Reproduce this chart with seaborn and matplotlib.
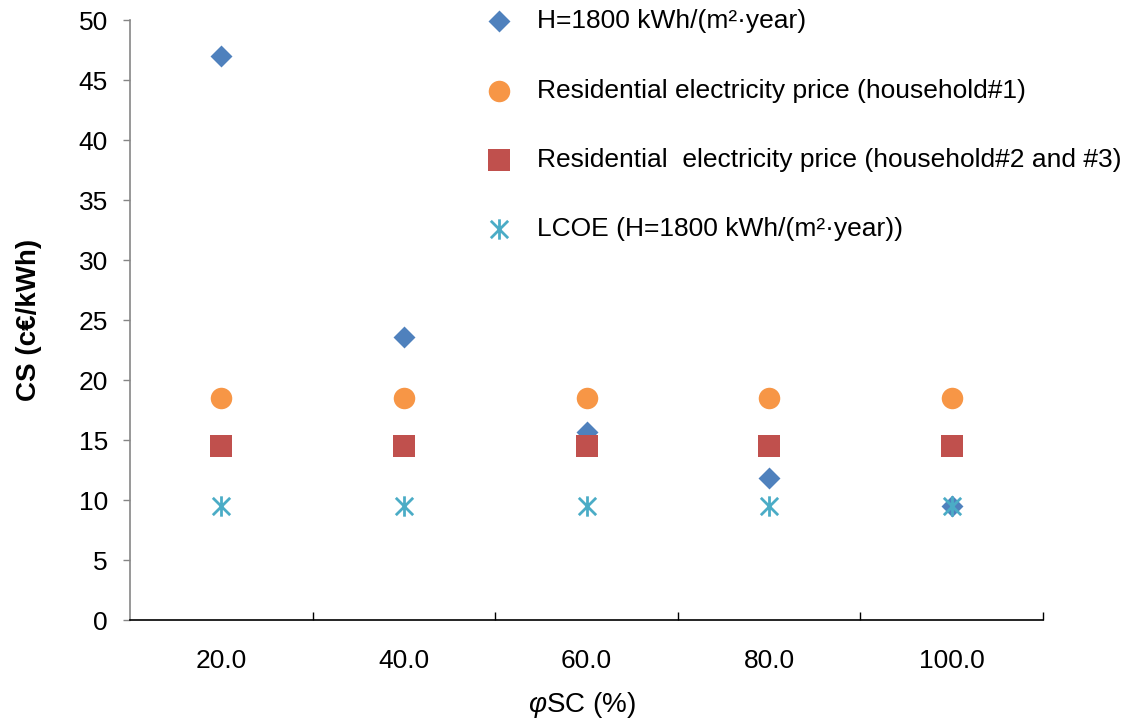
import matplotlib
matplotlib.use("Agg")
import matplotlib.pyplot as plt
import seaborn as sns
import pandas as pd
from matplotlib.ticker import FixedLocator
from matplotlib.path import Path

categories = ["20.0", "40.0", "60.0", "80.0", "100.0"]
h1800 = [47.0, 23.6, 15.7, 11.8, 9.5]
price_hh1 = [18.5, 18.5, 18.5, 18.5, 18.5]
price_hh23 = [14.5, 14.5, 14.5, 14.5, 14.5]
lcoe = [9.5, 9.5, 9.5, 9.5, 9.5]

labels = ["H=1800 kWh/(m²·year)",
          "Residential electricity price (household#1)",
          "Residential  electricity price (household#2 and #3)",
          "LCOE (H=1800 kWh/(m²·year))"]

sns.set_theme(style="white")
plt.rcParams['font.family'] = ['Liberation Sans', 'DejaVu Sans']
plt.rcParams['mathtext.fontset'] = 'custom'
plt.rcParams['mathtext.it'] = 'Liberation Sans:italic'
plt.rcParams['mathtext.rm'] = 'Liberation Sans'
plt.rcParams['text.color'] = 'black'
plt.rcParams['axes.labelcolor'] = 'black'
plt.rcParams['xtick.color'] = 'black'
plt.rcParams['ytick.color'] = 'black'

# asterisk: vertical stroke plus an X
star = Path([(0, -1), (0, 1), (-0.85, -0.85), (0.85, 0.85), (-0.85, 0.85), (0.85, -0.85)],
            [Path.MOVETO, Path.LINETO, Path.MOVETO, Path.LINETO, Path.MOVETO, Path.LINETO])

fig = plt.figure(figsize=(11.35, 7.24), dpi=100)
ax = fig.add_axes([130/1135, 104/724, 913/1135, 600/724])

series = [
    (h1800, labels[0], "#4F81BD", "D", 125, False),
    (price_hh1, labels[1], "#F79646", "o", 240, False),
    (price_hh23, labels[2], "#C0504D", "s", 230, False),
    (lcoe, labels[3], "#4BACC6", star, 215, True),
]
for vals, lab, col, mk, s, is_line in series:
    df = pd.DataFrame({"x": categories, "y": vals})
    if is_line:
        sns.scatterplot(data=df, x="x", y="y", ax=ax, marker=mk, s=s,
                        color=col, linewidth=2.0, edgecolor=col, label=lab, zorder=3)
    else:
        sns.scatterplot(data=df, x="x", y="y", ax=ax, marker=mk, s=s,
                        color=col, linewidth=0, label=lab, zorder=3)

ax.set_xlim(-0.5, 4.5)
ax.set_ylim(0, 50)
ax.set_yticks(range(0, 51, 5))
ax.tick_params(axis='y', which='major', length=5, width=1, direction='out',
               labelsize=19, pad=11, left=True, color='#868686', labelcolor='black')
ax.xaxis.set_minor_locator(FixedLocator([0.5, 1.5, 2.5, 3.5, 4.5]))
ax.tick_params(axis='x', which='major', length=0, labelsize=19, pad=21, labelcolor='black')
ax.tick_params(axis='x', which='minor', length=6, width=1, direction='in',
               color='black', bottom=True)

for side in ['top', 'right']:
    ax.spines[side].set_visible(False)
ax.spines['left'].set_color('#868686')
ax.spines['left'].set_linewidth(1.2)
ax.spines['bottom'].set_color('black')
ax.spines['bottom'].set_linewidth(1.2)

ax.set_ylabel("CS (c€/kWh)", fontsize=20, fontweight='bold', labelpad=26, color='black')
ax.set_xlabel("$\\varphi$SC (%)", fontsize=20, labelpad=12, color='black')
ax.xaxis.label.set_x(0.4945)

leg = ax.legend(loc='upper left', bbox_to_anchor=(0.3605, 1.04), frameon=False,
                fontsize=19, labelspacing=1.72, handletextpad=0.45,
                borderpad=0, scatterpoints=1)
for t in leg.get_texts():
    t.set_color('black')

fig.savefig("out.png", dpi=100)
